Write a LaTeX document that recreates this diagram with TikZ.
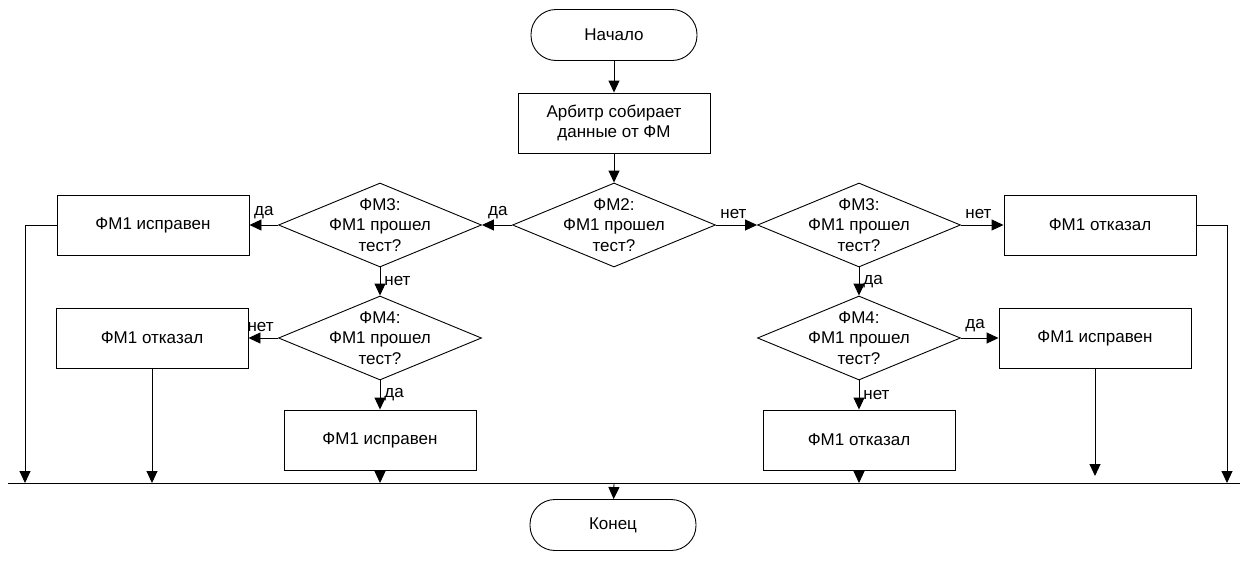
\documentclass[tikz,border=0pt]{standalone}
\usepackage{fontspec}
\setmainfont{Liberation Sans}
\usetikzlibrary{shapes.geometric,arrows.meta}

\begin{document}
\begin{tikzpicture}
[x=1pt,y=-1pt,
  font=\fontsize{17}{20.5}\selectfont,
  lineDecorate/.style={-{Triangle[length=12pt,width=11pt]},line width=0.9pt},
  plainDecorate/.style={-,line width=0.9pt},
  boxDecorate/.style={shape=rectangle,draw,line width=0.9pt,minimum width=192pt,minimum height=60pt,align=center},
  termDecorate/.style={shape=rectangle,rounded corners=25pt,draw,line width=0.9pt,minimum width=166pt,minimum height=51pt},
  decideDecorate/.style={shape=diamond,draw,line width=0.9pt,minimum width=203pt,minimum height=84pt,inner sep=0pt},
  tagDecorate/.style={inner xsep=4pt,inner ysep=6pt}]
\useasboundingbox (0,0) rectangle (1240,560);
%% start and end
\node (begin) at (614,35) [termDecorate] {Начало};
\node (end) at (613,525) [termDecorate] {Конец};
%% boxes
\node (collect) at (614,123) [boxDecorate] {Арбитр собирает\\данные от ФМ};
\foreach \nodename/\x/\y/\txt in {
  okA/153/225/исправен, failA/1100/225/отказал,
  failB/152/338/отказал, okB/1095/338/исправен,
  okC/380/440/исправен, failC/859/440/отказал}
{
  \node (\nodename) at (\x,\y) [boxDecorate] {ФМ1 \txt};
}
%% decisions
\foreach \nodename/\x/\y/\fm in {
  fm2/614/225/2, fm3l/380/225/3, fm3r/859/225/3,
  fm4l/380/338/4, fm4r/859/338/4}
{
  \node (\nodename) at (\x,\y) [decideDecorate,
    label={[align=center]center:{ФМ\fm:\\ФМ1 прошел\\тест?}}] {};
}
%% points on the collecting line
\foreach \nodename/\x in {
  busL/8, busA/25, busB/152, busC/380, busD/614, busE/859, busF/1227, busR/1240}
{
  \coordinate (\nodename) at (\x,483);
}
\coordinate (stubB) at (1095,476);
%% edges or lines
\draw[plainDecorate] (busL) -- (busR);
\draw[lineDecorate] (okA.west) -| (busA);
\draw[lineDecorate] (failA.east) -| (busF);
\path
\foreach \startnode/\endnode in {
  begin/collect, collect/fm2, failB/busB, okC/busC, failC/busE,
  okB/stubB, busD/end}
{
  (\startnode) edge[lineDecorate] (\endnode)
}
\foreach \startnode/\endnode/\lbl/\where/\anc in {
  fm2/fm3l/да/0/south east, fm2/fm3r/нет/0/south west,
  fm3l/okA/да/0/south east, fm3r/failA/нет/0/south west,
  fm3l/fm4l/нет/0.5/west, fm3r/fm4r/да/0.5/west,
  fm4l/failB/нет/0/south east, fm4r/okB/да/0/south west,
  fm4l/okC/да/0.5/west, fm4r/failC/нет/0.5/west}
{
  (\startnode) edge[lineDecorate] node[pos=\where,anchor=\anc,tagDecorate] {\lbl} (\endnode)
};
\end{tikzpicture}
\end{document}
